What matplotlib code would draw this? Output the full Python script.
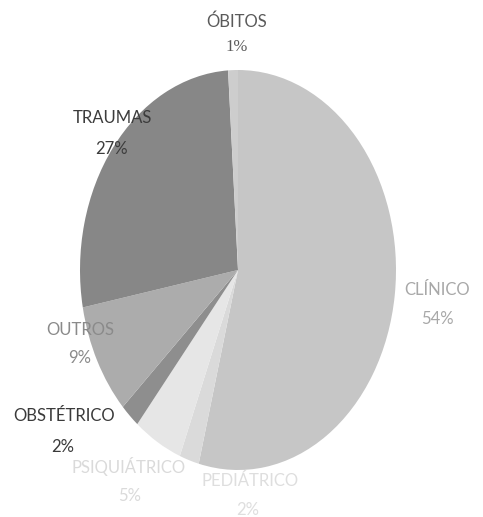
import matplotlib
matplotlib.use("Agg")
import matplotlib.pyplot as plt

categories = ["CLÍNICO", "PEDIÁTRICO", "PSIQUIÁTRICO", "OBSTÉTRICO", "OUTROS", "TRAUMAS", "ÓBITOS"]
values = [54, 2, 5, 2, 9, 27, 1]
pct_labels = ["54%", "2%", "5%", "2%", "9%", "27%", "1%"]

slice_colors = ["#c6c6c6", "#dadada", "#e6e6e6", "#8e8e8e", "#acacac", "#878787", "#cdcdcd"]
label_colors = ["#a8a8a8", "#dedede", "#dadada", "#3a3a3a", "#8a8a8a", "#3c3c3c", "#5a5a5a"]
# layout: category name and percent positions in figure pixels
name_px = [(437, 290), (250, 481), (129, 467), (64, 416), (80, 330), (112, 118), (237, 22)]
pct_px = [(437, 319), (248, 510), (130, 496), (63, 447), (80, 358), (112, 149), (237, 47)]

W, H = 483, 517
fig = plt.figure(figsize=(W / 100, H / 100), dpi=100)
cx, cy, rx, ry = 238, 270, 158, 200
ax = fig.add_axes([(cx - rx) / W, (H - cy - ry) / H, 2 * rx / W, 2 * ry / H])
ax.pie(values, colors=slice_colors, startangle=90, counterclock=False,
       radius=1.0, wedgeprops=dict(linewidth=0))
ax.set_aspect("auto")
ax.set_xlim(-1, 1)
ax.set_ylim(-1, 1)
ax.axis("off")

for i, (cat, pct, col) in enumerate(zip(categories, pct_labels, label_colors)):
    x, y = name_px[i]
    fig.text(x / W, 1 - y / H, cat, ha="center", va="center", fontsize=12,
             family="Lato", color=col)
    px, py = pct_px[i]
    fam = "Liberation Serif" if cat == "ÓBITOS" else "Lato"
    fig.text(px / W, 1 - py / H, pct, ha="center", va="center", fontsize=12,
             family=fam, color=col)

fig.savefig("out.png", dpi=100, facecolor="white")
